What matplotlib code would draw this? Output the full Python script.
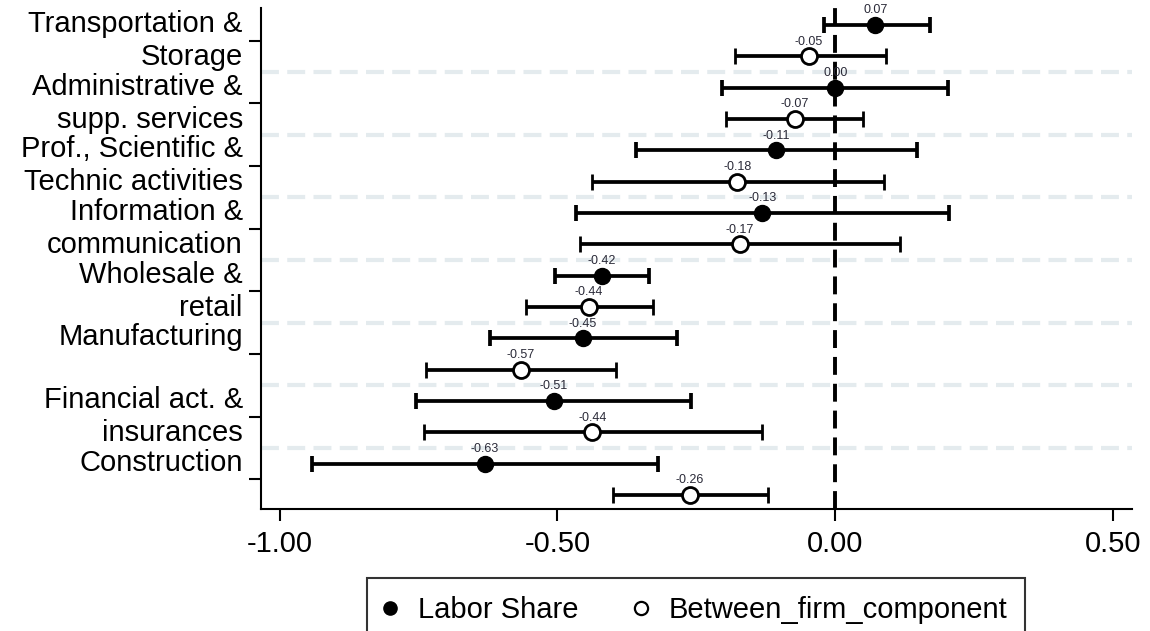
import matplotlib
matplotlib.use("Agg")
import matplotlib.pyplot as plt
from matplotlib.lines import Line2D

plt.rcParams['font.family'] = ['Liberation Sans', 'DejaVu Sans']

# sectors, top to bottom (empty second line keeps single-line labels raised like the original)
sectors = ["Transportation &\nStorage", "Administrative &\nsupp. services",
           "Prof., Scientific &\nTechnic activities", "Information &\ncommunication",
           "Wholesale &\nretail", "Manufacturing\n ", "Financial act. &\ninsurances",
           "Construction\n "]

# Labor Share: coefficient and 95% CI
ls_coef = [0.072, 0.000, -0.106, -0.131, -0.420, -0.454, -0.506, -0.631]
ls_lo = [-0.020, -0.203, -0.359, -0.467, -0.505, -0.622, -0.754, -0.942]
ls_hi = [0.170, 0.203, 0.147, 0.205, -0.335, -0.284, -0.259, -0.319]

# Between_firm_component: coefficient and 95% CI
bf_coef = [-0.047, -0.073, -0.176, -0.172, -0.443, -0.566, -0.437, -0.262]
bf_lo = [-0.181, -0.197, -0.437, -0.460, -0.556, -0.737, -0.740, -0.400]
bf_hi = [0.091, 0.050, 0.088, 0.116, -0.328, -0.394, -0.132, -0.121]

xticks = [-1.0, -0.5, 0.0, 0.5]

fig = plt.figure(figsize=(11.5, 6.31), dpi=100)
ax = fig.add_axes([0.2267, 0.1929, 0.7576, 0.7944])

n = len(sectors)
y_ls = [2 * i for i in range(n)]
y_bf = [2 * i + 1 for i in range(n)]

# dashed separators between sectors
for k in range(1, n):
    ax.axhline(2 * k - 0.5, color='#e4ebee', lw=3, ls=(0, (4.3, 2.0)), zorder=0)

ax.axvline(0, color='black', lw=2.8, ls=(0, (4.6, 2.3)), zorder=1)

err_ls = [[c - lo for c, lo in zip(ls_coef, ls_lo)], [hi - c for c, hi in zip(ls_coef, ls_hi)]]
err_bf = [[c - lo for c, lo in zip(bf_coef, bf_lo)], [hi - c for c, hi in zip(bf_coef, bf_hi)]]

ax.errorbar(ls_coef, y_ls, xerr=err_ls, fmt='o', color='black', ms=11.5,
            elinewidth=2.7, capsize=5.6, capthick=2.7, zorder=3)
ax.errorbar(bf_coef, y_bf, xerr=err_bf, fmt='o', color='black', mfc='white',
            mec='black', mew=2.0, ms=11.5, elinewidth=2.7, capsize=5.6,
            capthick=2.7, zorder=3)

for x, y in list(zip(ls_coef, y_ls)) + list(zip(bf_coef, y_bf)):
    ax.annotate(f"{x:.2f}", xy=(x, y), xytext=(0, 8.4), textcoords='offset points',
                ha='center', va='baseline', fontsize=9, color='#2a2a38', zorder=4)

ax.set_xlim(-1.034, 0.534)
ax.set_ylim(15.46, -0.54)
ax.set_xticks(xticks)
ax.set_xticklabels([f"{t:.2f}" for t in xticks])
ax.set_yticks([2 * i + 0.5 for i in range(n)])
ax.set_yticklabels(sectors)
for lbl in ax.get_yticklabels():
    lbl.set_linespacing(1.22)
    lbl.set_va('center')

ax.tick_params(axis='both', labelsize=21, length=8.6, width=1.5, color='black')
ax.tick_params(axis='y', pad=4.3)
ax.tick_params(axis='x', pad=6)
for s in ['top', 'right']:
    ax.spines[s].set_visible(False)
for s in ['left', 'bottom']:
    ax.spines[s].set_linewidth(1.5)

handles = [Line2D([], [], marker='o', ls='none', color='black', ms=9.5),
           Line2D([], [], marker='o', ls='none', color='black', mfc='white', mew=1.6, ms=9.5)]
leg = ax.legend(handles, ['Labor Share', 'Between_firm_component'], ncol=2,
                loc='upper center', bbox_to_anchor=(0.5, -0.137), borderaxespad=0,
                fontsize=21, frameon=True, fancybox=False, edgecolor='black',
                borderpad=0.62, handlelength=0.3, handletextpad=0.8, columnspacing=2.0)
leg.get_frame().set_linewidth(1.5)

fig.savefig('out.png', dpi=100)
